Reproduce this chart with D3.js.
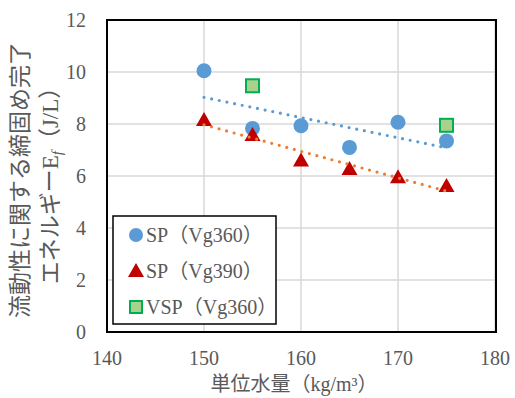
<!DOCTYPE html>
<html><head><meta charset="utf-8">
<script src="https://cdn.jsdelivr.net/npm/d3@7"></script>
<style>
body{margin:0;background:#fff;}
svg text{font-family:"Liberation Serif","Noto Sans CJK JP",serif;}
</style></head>
<body><svg id="c" width="515" height="398"></svg>
<script>
const xTicks = [140,150,160,170,180];
const yTicks = [0,2,4,6,8,10,12];
const spX = [150,155,160,165,170,175];
const sp360 = [10.05,7.83,7.93,7.1,8.07,7.35];
const sp390X = [150,155,160,165,170,175];
const sp390 = [8.15,7.58,6.6,6.27,5.95,5.62];
const vspX = [155,175];
const vsp360 = [9.47,7.95];
const legendLabels = ["SP（Vg360）","SP（Vg390）","VSP（Vg360）"];
const xTitle = "単位水量（kg/m³）";
const yTitle1 = "流動性に関する締固め完了";

const svg = d3.select("#c");
const L=107,R=495,T=20,B=332;
const x = d3.scaleLinear().domain([140,180]).range([L,R]);
const y = d3.scaleLinear().domain([0,12]).range([B,T]);

// grid
svg.append("g").selectAll("line").data(xTicks).join("line")
  .attr("x1",d=>x(d)).attr("x2",d=>x(d)).attr("y1",T).attr("y2",B)
  .attr("stroke","#d9d9d9").attr("stroke-width",1.5);
svg.append("g").selectAll("line").data(yTicks).join("line")
  .attr("y1",d=>y(d)).attr("y2",d=>y(d)).attr("x1",L).attr("x2",R)
  .attr("stroke","#d9d9d9").attr("stroke-width",1.5);

// tick labels
svg.append("g").selectAll("text").data(yTicks).join("text")
  .attr("x",86).attr("y",d=>y(d)).attr("dy","0.35em")
  .attr("text-anchor","end").attr("font-size",20).attr("fill","#595959").text(d=>d);
svg.append("g").selectAll("text").data(xTicks).join("text")
  .attr("x",d=>x(d)).attr("y",365)
  .attr("text-anchor","middle").attr("font-size",20).attr("fill","#595959").text(d=>d);

// axis titles
svg.append("text").attr("x",294).attr("y",391).attr("text-anchor","middle")
  .attr("font-size",20).attr("fill","#595959").text(xTitle);
const yt = svg.append("g").attr("transform","translate(0,180) rotate(-90)");
yt.append("text").attr("x",0).attr("y",28).attr("text-anchor","middle")
  .attr("font-size",23).attr("fill","#595959").text(yTitle1);
const t2 = yt.append("text").attr("x",0).attr("y",58).attr("text-anchor","middle")
  .attr("font-size",23).attr("fill","#595959");
t2.append("tspan").text("エネルギーE");
t2.append("tspan").attr("font-style","italic").attr("font-size",15).attr("dy",4).text("f");
t2.append("tspan").attr("dy",-4).text("（J/L）");

// markers
function circles(g,xs,ys){
  g.selectAll("circle").data(xs).join("circle")
   .attr("cx",d=>x(d)).attr("cy",(d,i)=>y(ys[i])).attr("r",7.5).attr("fill","#5B9BD5");
}
function tris(g,xs,ys){
  g.selectAll("path").data(xs).join("path")
   .attr("transform",(d,i)=>`translate(${x(d)},${y(ys[i])})`)
   .attr("d","M0,-8L8,6L-8,6Z").attr("fill","#C00000");
}
function squares(g,xs,ys){
  g.selectAll("rect").data(xs).join("rect")
   .attr("x",d=>x(d)-6.5).attr("y",(d,i)=>y(ys[i])-6.5).attr("width",13).attr("height",13)
   .attr("fill","#A9D18E").attr("stroke","#00B050").attr("stroke-width",2);
}
circles(svg.append("g"),spX,sp360);
tris(svg.append("g"),sp390X,sp390);
squares(svg.append("g"),vspX,vsp360);

// trendlines (least squares)
function fit(xs,ys){
  const mx=d3.mean(xs),my=d3.mean(ys);
  const s=d3.sum(xs,(v,i)=>(v-mx)*(ys[i]-my))/d3.sum(xs,v=>(v-mx)*(v-mx));
  return v=>my+s*(v-mx);
}
function trend(xs,ys,col){
  const f=fit(xs,ys), x0=d3.min(xs), x1=d3.max(xs);
  svg.append("line").attr("x1",x(x0)).attr("y1",y(f(x0))).attr("x2",x(x1)).attr("y2",y(f(x1)))
    .attr("stroke",col).attr("stroke-width",3.2).attr("stroke-linecap","round")
    .attr("stroke-dasharray","0 7.8");
}
trend(spX,sp360,"#5B9BD5");
trend(sp390X,sp390,"#ED7D31");

// frame
svg.append("rect").attr("x",L).attr("y",T).attr("width",R-L+1).attr("height",B-T)
  .attr("fill","none").attr("stroke","#000").attr("stroke-width",2);

// legend
const lg = svg.append("g");
lg.append("rect").attr("x",113).attr("y",216).attr("width",163).attr("height",108)
  .attr("fill","#fff").attr("stroke","#000").attr("stroke-width",1.5);
const ly=[235,271,307];
lg.append("circle").attr("cx",136).attr("cy",ly[0]).attr("r",7).attr("fill","#5B9BD5");
lg.append("path").attr("transform",`translate(136,${ly[1]})`).attr("d","M0,-8L8,6L-8,6Z").attr("fill","#C00000");
lg.append("rect").attr("x",130).attr("y",ly[2]-6).attr("width",12).attr("height",12)
  .attr("fill","#A9D18E").attr("stroke","#00B050").attr("stroke-width",2);
lg.selectAll("text").data(legendLabels).join("text")
  .attr("x",146).attr("y",(d,i)=>ly[i]).attr("dy","0.35em")
  .attr("font-size",20).attr("fill","#595959").text(d=>d);
</script></body></html>
